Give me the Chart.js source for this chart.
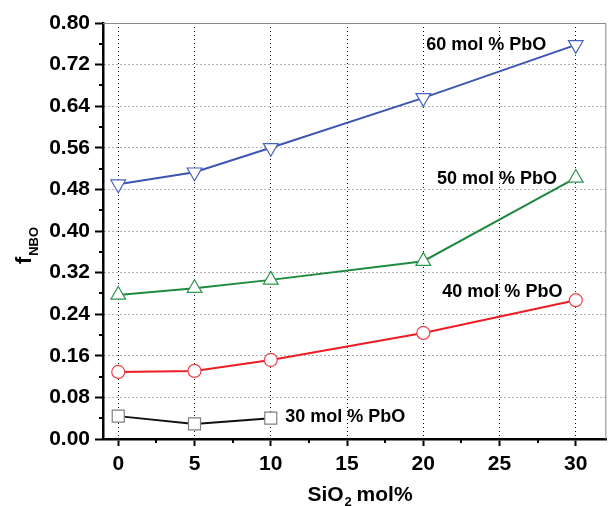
<!DOCTYPE html>
<html>
<head>
<meta charset="utf-8">
<script src="https://cdn.jsdelivr.net/npm/chart.js@4.4.0/dist/chart.umd.min.js"></script>
<style>
html,body{margin:0;padding:0;background:#fff;}
#wrap{width:616px;height:506px;position:relative;}
</style>
</head>
<body>
<div id="wrap"><canvas id="c" width="616" height="506"></canvas></div>
<script>
// ---- data ----
const sio2 = [0, 5, 10, 20, 30];
const sio2Short = [0, 5, 10];
const pbo60 = [0.490, 0.513, 0.560, 0.656, 0.758];
const pbo50 = [0.277, 0.290, 0.306, 0.342, 0.502];
const pbo40 = [0.129, 0.131, 0.152, 0.204, 0.267];
const pbo30 = [0.044, 0.029, 0.040];
const xTicks = [0, 5, 10, 15, 20, 25, 30];
const yTicks = [0.00, 0.08, 0.16, 0.24, 0.32, 0.40, 0.48, 0.56, 0.64, 0.72, 0.80];
const seriesLabels = ['60 mol % PbO', '50 mol % PbO', '40 mol % PbO', '30 mol % PbO'];
const labelX = [20.2, 20.9, 21.25, 10.95];
const labelY = [0.757, 0.500, 0.283, 0.042];
const xTitle = ['SiO', '2', ' mol%'];
const yTitle = ['f', 'NBO'];

const toXY = (xs, ys) => xs.map((x, i) => ({x: x, y: ys[i]}));

const FONT = '"Liberation Sans", Arial, sans-serif';

const extras = {
  id: 'extras',
  afterDraw(chart) {
    const ctx = chart.ctx;
    const xs = chart.scales.x, ys = chart.scales.y;
    const a = chart.chartArea;
    ctx.save();
    // frame top/right
    ctx.strokeStyle = '#8a8a8a';
    ctx.lineWidth = 1;
    ctx.setLineDash([]);
    ctx.beginPath();
    ctx.moveTo(a.left, a.top + 0.5); ctx.lineTo(a.right - 0.5, a.top + 0.5); ctx.lineTo(a.right - 0.5, a.bottom);
    ctx.stroke();
    // minor ticks
    ctx.strokeStyle = '#000';
    ctx.lineWidth = 2;
    ctx.beginPath();
    for (let i = 0; i < yTicks.length - 1; i++) {
      const v = (yTicks[i] + yTicks[i + 1]) / 2;
      const py = Math.round(ys.getPixelForValue(v));
      ctx.moveTo(a.left - 4, py); ctx.lineTo(a.left, py);
    }
    for (let i = 0; i < xTicks.length - 1; i++) {
      const v = (xTicks[i] + xTicks[i + 1]) / 2;
      const px = Math.round(xs.getPixelForValue(v));
      ctx.moveTo(px, a.bottom); ctx.lineTo(px, a.bottom + 4);
    }
    ctx.stroke();
    // series labels
    ctx.fillStyle = '#000';
    ctx.font = 'bold 18px ' + FONT;
    ctx.textAlign = 'left';
    ctx.textBaseline = 'middle';
    seriesLabels.forEach((t, i) => {
      ctx.fillText(t, xs.getPixelForValue(labelX[i]), ys.getPixelForValue(labelY[i]));
    });
    // x title
    ctx.textBaseline = 'alphabetic';
    ctx.font = 'bold 21px ' + FONT;
    const w0 = ctx.measureText(xTitle[0]).width;
    const w2 = ctx.measureText(xTitle[2]).width;
    ctx.font = 'bold 13px ' + FONT;
    const w1 = ctx.measureText(xTitle[1]).width;
    let sx = 360 - (w0 + w1 + w2) / 2;
    const by = 501;
    ctx.font = 'bold 21px ' + FONT;
    ctx.fillText(xTitle[0], sx, by);
    ctx.font = 'bold 13px ' + FONT;
    ctx.fillText(xTitle[1], sx + w0 + 1, by + 5);
    ctx.font = 'bold 21px ' + FONT;
    ctx.fillText(xTitle[2], sx + w0 + w1, by);
    // y title
    ctx.translate(31, 246);
    ctx.rotate(-Math.PI / 2);
    ctx.font = 'bold 22px ' + FONT;
    const fw = ctx.measureText(yTitle[0]).width;
    ctx.font = 'bold 13px ' + FONT;
    const nw = ctx.measureText(yTitle[1]).width;
    const st = -(fw + nw) / 2;
    ctx.font = 'bold 22px ' + FONT;
    ctx.fillText(yTitle[0], st, 0);
    ctx.font = 'bold 13px ' + FONT;
    ctx.fillText(yTitle[1], st + fw + 1, 7);
    ctx.restore();
  }
};

new Chart(document.getElementById('c'), {
  type: 'scatter',
  data: {
    datasets: [
      {label: seriesLabels[0], data: toXY(sio2, pbo60), showLine: true, borderColor: '#3d55b2', borderWidth: 2,
       pointStyle: 'triangle', rotation: 180, pointRadius: 8.5, pointBorderWidth: 1.2, pointBorderColor: '#4a62bd', pointBackgroundColor: '#fff'},
      {label: seriesLabels[1], data: toXY(sio2, pbo50), showLine: true, borderColor: '#1f8a3e', borderWidth: 2,
       pointStyle: 'triangle', pointRadius: 8.5, pointBorderWidth: 1.2, pointBorderColor: '#2c9650', pointBackgroundColor: '#fff'},
      {label: seriesLabels[2], data: toXY(sio2, pbo40), showLine: true, borderColor: '#ee1c24', borderWidth: 2,
       pointStyle: 'circle', pointRadius: 6.5, pointBorderWidth: 1.2, pointBorderColor: '#f0424a', pointBackgroundColor: '#fff'},
      {label: seriesLabels[3], data: toXY(sio2Short, pbo30), showLine: true, borderColor: '#111', borderWidth: 2,
       pointStyle: 'rect', pointRadius: 8.5, pointBorderWidth: 1.2, pointBorderColor: '#808080', pointBackgroundColor: '#fff'}
    ]
  },
  options: {
    responsive: false,
    animation: false,
    layout: {padding: {left: 0, right: 3, top: 23, bottom: 0}},
    plugins: {legend: {display: false}, tooltip: {enabled: false}},
    scales: {
      x: {
        type: 'linear', min: -1, max: 32,
        afterBuildTicks: s => { s.ticks = xTicks.map(v => ({value: v})); },
        afterFit: s => { s.height = 67; },
        ticks: {color: '#000', font: {family: FONT, size: 21, weight: 'bold'}, padding: 6, maxRotation: 0,
                callback: v => String(v)},
        grid: {color: '#111', lineWidth: 1, drawTicks: true, tickLength: 7,
               tickColor: '#000', tickWidth: 2, tickBorderDash: []},
        border: {display: true, color: '#000', width: 2.5, dash: [1, 3]}
      },
      y: {
        type: 'linear', min: 0, max: 0.8,
        afterBuildTicks: s => { s.ticks = yTicks.map(v => ({value: v})); },
        afterFit: s => { s.width = 103; },
        ticks: {color: '#000', font: {family: FONT, size: 21, weight: 'bold'}, padding: 5,
                callback: v => Number(v).toFixed(2)},
        grid: {color: '#666', lineWidth: 1, drawTicks: true, tickLength: 8,
               tickColor: '#000', tickWidth: 2, tickBorderDash: []},
        border: {display: true, color: '#000', width: 2.5, dash: [1, 3]}
      }
    }
  },
  plugins: [extras]
});
</script>
</body>
</html>
